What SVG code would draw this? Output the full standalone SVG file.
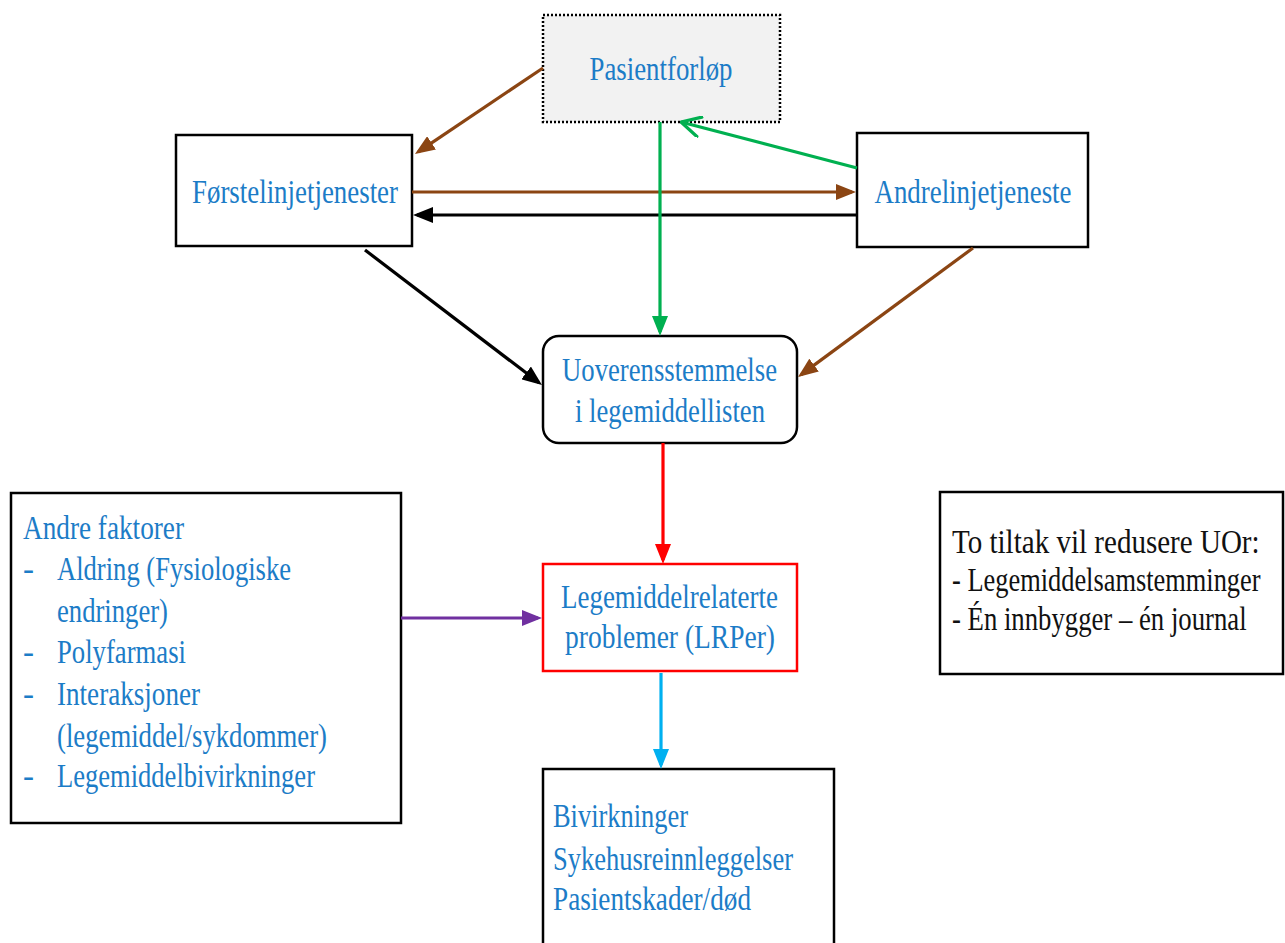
<svg xmlns="http://www.w3.org/2000/svg" width="1285" height="943" viewBox="0 0 1285 943">
  <style>
    .box { fill: #ffffff; stroke: #000000; stroke-width: 2.5; }
    .t { font-family: "Liberation Serif", "Times New Roman", serif; font-size: 33px; fill: #1c7cc7; }
    .tb { font-family: "Liberation Serif", "Times New Roman", serif; font-size: 33px; fill: #111111; }
    .c { text-anchor: middle; }
    .ln { fill: none; stroke-width: 3.2; }
  </style>
  <defs>
    <marker id="ah-brown" viewBox="0 0 20 16" refX="16" refY="8" markerWidth="20" markerHeight="16" markerUnits="userSpaceOnUse" orient="auto"><path d="M0,0 L20,8 L0,16 z" fill="#8b4513"/></marker>
    <marker id="ah-black" viewBox="0 0 20 16" refX="16" refY="8" markerWidth="20" markerHeight="16" markerUnits="userSpaceOnUse" orient="auto"><path d="M0,0 L20,8 L0,16 z" fill="#000000"/></marker>
    <marker id="ah-green" viewBox="0 0 20 16" refX="16" refY="8" markerWidth="20" markerHeight="16" markerUnits="userSpaceOnUse" orient="auto"><path d="M0,0 L20,8 L0,16 z" fill="#00b050"/></marker>
    <marker id="ah-green-open" viewBox="0 0 22 22" refX="21" refY="11" markerWidth="22" markerHeight="22" markerUnits="userSpaceOnUse" orient="auto"><path d="M2,1 L21,11 L2,21" fill="none" stroke="#00b050" stroke-width="3.2" stroke-linecap="round" stroke-linejoin="round"/></marker>
    <marker id="ah-red" viewBox="0 0 20 16" refX="16" refY="8" markerWidth="20" markerHeight="16" markerUnits="userSpaceOnUse" orient="auto"><path d="M0,0 L20,8 L0,16 z" fill="#ff0000"/></marker>
    <marker id="ah-purple" viewBox="0 0 20 16" refX="16" refY="8" markerWidth="20" markerHeight="16" markerUnits="userSpaceOnUse" orient="auto"><path d="M0,0 L20,8 L0,16 z" fill="#7030a0"/></marker>
    <marker id="ah-cyan" viewBox="0 0 20 16" refX="16" refY="8" markerWidth="20" markerHeight="16" markerUnits="userSpaceOnUse" orient="auto"><path d="M0,0 L20,8 L0,16 z" fill="#00b0f0"/></marker>
  </defs>
  <rect width="1285" height="943" fill="#ffffff"/>

  <g id="pasientforlop">
    <rect x="543" y="15" width="237" height="107" fill="#f2f2f2" stroke="#000000" stroke-width="2.5" stroke-dasharray="2 2"/>
    <text class="t c" x="661" y="80" textLength="143" lengthAdjust="spacingAndGlyphs">Pasientforløp</text>
  </g>

  <g id="forstelinje">
    <rect class="box" x="176" y="135" width="236" height="111"/>
    <text class="t c" x="295" y="203" textLength="206" lengthAdjust="spacingAndGlyphs">Førstelinjetjenester</text>
  </g>

  <g id="andrelinje">
    <rect class="box" x="857" y="133" width="231" height="114"/>
    <text class="t c" x="973" y="203" textLength="197" lengthAdjust="spacingAndGlyphs">Andrelinjetjeneste</text>
  </g>

  <g id="uoverensstemmelse">
    <rect class="box" x="543" y="336" width="254" height="107" rx="16" ry="16"/>
    <text class="t c" x="669.5" y="381" textLength="215" lengthAdjust="spacingAndGlyphs">Uoverensstemmelse</text>
    <text class="t c" x="670" y="422" textLength="190" lengthAdjust="spacingAndGlyphs">i legemiddellisten</text>
  </g>

  <g id="lrp">
    <rect x="543" y="564" width="254" height="107" fill="#ffffff" stroke="#ff0000" stroke-width="2.5"/>
    <text class="t c" x="669.5" y="608" textLength="217" lengthAdjust="spacingAndGlyphs">Legemiddelrelaterte</text>
    <text class="t c" x="670" y="648" textLength="210" lengthAdjust="spacingAndGlyphs">problemer (LRPer)</text>
  </g>

  <g id="andre-faktorer">
    <rect class="box" x="11" y="493" width="390" height="330"/>
    <text class="t" x="23" y="539" textLength="161" lengthAdjust="spacingAndGlyphs">Andre faktorer</text>
    <text class="t" x="23" y="580">-</text>
    <text class="t" x="57" y="580" textLength="234" lengthAdjust="spacingAndGlyphs">Aldring (Fysiologiske</text>
    <text class="t" x="57" y="622" textLength="111" lengthAdjust="spacingAndGlyphs">endringer)</text>
    <text class="t" x="23" y="663">-</text>
    <text class="t" x="57" y="663" textLength="129" lengthAdjust="spacingAndGlyphs">Polyfarmasi</text>
    <text class="t" x="23" y="705">-</text>
    <text class="t" x="57" y="705" textLength="143" lengthAdjust="spacingAndGlyphs">Interaksjoner</text>
    <text class="t" x="57" y="747" textLength="270" lengthAdjust="spacingAndGlyphs">(legemiddel/sykdommer)</text>
    <text class="t" x="23" y="787">-</text>
    <text class="t" x="57" y="787" textLength="258" lengthAdjust="spacingAndGlyphs">Legemiddelbivirkninger</text>
  </g>

  <g id="tiltak">
    <rect class="box" x="940" y="492" width="343" height="182"/>
    <text class="tb" transform="translate(952,553) scale(0.88,1)" x="0" y="0">To tiltak vil redusere UOr:</text>
    <text class="tb" transform="translate(952,591) scale(0.80,1)" x="0" y="0">- Legemiddelsamstemminger</text>
    <text class="tb" transform="translate(952,630) scale(0.81,1)" x="0" y="0">- Én innbygger – én journal</text>
  </g>

  <g id="konsekvenser">
    <rect class="box" x="543" y="769" width="291" height="190"/>
    <text class="t" x="553" y="827" textLength="135" lengthAdjust="spacingAndGlyphs">Bivirkninger</text>
    <text class="t" x="553" y="870" textLength="240" lengthAdjust="spacingAndGlyphs">Sykehusreinnleggelser</text>
    <text class="t" x="553" y="910" textLength="198" lengthAdjust="spacingAndGlyphs">Pasientskader/død</text>
  </g>

  <g id="connectors">
    <line class="ln" x1="543" y1="68" x2="418.3" y2="151.8" stroke="#8b4513" marker-end="url(#ah-brown)"/>
    <line class="ln" x1="412" y1="192" x2="852" y2="192" stroke="#8b4513" marker-end="url(#ah-brown)"/>
    <line class="ln" x1="857" y1="215" x2="417" y2="215" stroke="#000000" marker-end="url(#ah-black)"/>
    <line class="ln" x1="660" y1="122" x2="660" y2="332" stroke="#00b050" marker-end="url(#ah-green)"/>
    <line class="ln" x1="857" y1="168" x2="681" y2="122" stroke="#00b050" marker-end="url(#ah-green-open)"/>
    <line class="ln" x1="365" y1="250" x2="538.8" y2="382.6" stroke="#000000" marker-end="url(#ah-black)"/>
    <line class="ln" x1="973" y1="248" x2="801.2" y2="374.6" stroke="#8b4513" marker-end="url(#ah-brown)"/>
    <line class="ln" x1="663" y1="443" x2="663" y2="560" stroke="#ff0000" marker-end="url(#ah-red)"/>
    <line class="ln" x1="401" y1="618" x2="538" y2="618" stroke="#7030a0" marker-end="url(#ah-purple)"/>
    <line class="ln" x1="661" y1="673" x2="661" y2="765" stroke="#00b0f0" marker-end="url(#ah-cyan)"/>
  </g>
</svg>
